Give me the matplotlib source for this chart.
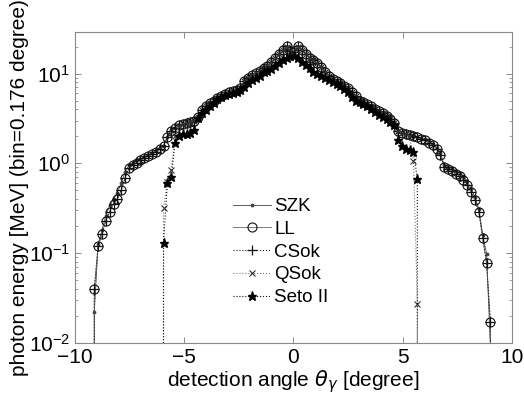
import numpy as np
import matplotlib.pyplot as plt

plt.rcParams['font.family'] = ['Liberation Sans', 'DejaVu Sans']
plt.rcParams['mathtext.fontset'] = 'dejavusans'

# bin centres, bin width 0.176 degree
BIN = 0.176
angle = np.arange(-53, 53) * BIN + 0.038

# photon energy per bin [MeV]
ll = [0, 0.040, 0.119, 0.163, 0.23, 0.29, 0.355, 0.40, 0.50, 0.68,
      0.88, 0.95, 1.02, 1.09, 1.15, 1.21, 1.27, 1.34, 1.45, 1.55,
      1.95, 2.3, 2.5, 2.65, 2.75, 2.8, 2.9, 3.0, 3.3, 3.9,
      4.4, 4.7, 5.0, 5.3, 5.6, 5.9, 6.2, 6.4, 6.6, 6.9,
      8.2, 9.0, 9.6, 10.2, 10.8, 11.5, 12.3, 13.5, 15.0, 16.5,
      18.5, 20.5, 18.0, 17.5, 20.5, 18.5, 16.5, 15.0, 14.0, 13.0,
      11.8, 10.5, 9.5, 8.8, 8.3, 7.8, 7.3, 6.9, 6.3, 5.6,
      5.0, 4.8, 4.6, 4.3, 4.0, 3.8, 3.6, 3.4, 3.1, 2.8,
      2.3, 2.2, 2.1, 2.05, 2.0, 1.95, 1.85, 1.8, 1.7, 1.6,
      1.45, 1.25, 0.90, 0.86, 0.82, 0.77, 0.72, 0.66, 0.58, 0.48,
      0.39, 0.29, 0.146, 0.078, 0.017, 0]

szk = [0, 0.022, 0.125, 0.18, 0.26, 0.34, 0.40, 0.47, 0.60, 0.80,
       0.95, 1.02, 1.08, 1.13, 1.19, 1.25, 1.31, 1.38, 1.48, 1.58,
       1.98, 2.35, 2.5, 2.65, 2.75, 2.8, 2.9, 3.0, 3.3, 3.9,
       4.4, 4.7, 5.0, 5.3, 5.6, 5.9, 6.2, 6.4, 6.6, 6.9,
       8.2, 9.0, 9.6, 10.2, 10.8, 11.5, 12.3, 13.5, 15.0, 16.5,
       18.5, 20.0, 18.0, 17.5, 20.0, 18.5, 16.5, 15.0, 14.0, 13.0,
       11.8, 10.5, 9.5, 8.8, 8.3, 7.8, 7.3, 6.9, 6.3, 5.6,
       5.0, 4.8, 4.6, 4.3, 4.0, 3.8, 3.6, 3.4, 3.1, 2.8,
       2.3, 2.2, 2.1, 2.05, 2.0, 1.95, 1.9, 1.85, 1.75, 1.65,
       1.5, 1.3, 0.95, 0.92, 0.88, 0.83, 0.78, 0.72, 0.63, 0.52,
       0.42, 0.31, 0.16, 0.098, 0.009, 0]

csok = ll

qsok = [0] * 19 + [
    0.32, 0.62, 0.84, 2.0, 2.6, 2.75, 2.8, 2.9, 3.0, 3.3,
    3.9, 4.4, 4.7, 5.0, 5.3, 5.6, 5.9, 6.2, 6.4, 6.6,
    6.9, 8.2, 9.0, 9.6, 10.2, 10.8, 11.5, 12.3, 13.5, 15.0,
    16.5, 18.5, 20.0, 18.0, 17.5, 20.0, 18.5, 16.5, 15.0, 14.0,
    13.0, 11.8, 10.5, 9.5, 8.8, 8.3, 7.8, 7.3, 6.9, 6.3,
    5.6, 5.0, 4.8, 4.6, 4.3, 4.0, 3.8, 3.6, 3.4, 3.1,
    2.8, 2.3, 2.2, 2.1, 2.0, 1.06, 0.027] + [0] * 20

seto = [0] * 19 + [
    0.13, 0.60, 0.70, 1.7, 2.0, 2.1, 2.15, 2.2, 2.35, 3.2,
    3.6, 3.9, 4.3, 4.7, 5.2, 5.5, 5.7, 5.9, 6.1, 6.3,
    6.5, 7.0, 7.8, 8.4, 8.9, 9.5, 10.3, 10.8, 11.3, 12.0,
    13.0, 14.0, 15.0, 15.5, 15.5, 15.0, 13.5, 12.5, 11.5, 10.5,
    9.8, 9.3, 9.0, 8.4, 8.0, 7.6, 7.2, 6.8, 6.3, 5.5,
    5.0, 4.8, 4.6, 4.4, 4.0, 3.7, 3.5, 3.3, 3.1, 2.9,
    2.7, 1.8, 1.55, 1.45, 1.4, 1.35, 0.67] + [0] * 20

fig = plt.figure(figsize=(5.24, 4.01), dpi=100)
ax = fig.add_axes([0.143, 0.145, 0.834, 0.775])

ax.plot(angle, szk, '-', color='#444444', lw=0.6, marker='.', ms=3.5,
        label='SZK')
ax.plot(angle, ll, '-', color='#666666', lw=0.6, marker='o', ms=6.5,
        mfc='none', mec='#111111', mew=0.8, label='LL')
ax.plot(angle, csok, ':', color='#222222', lw=0.8, marker='+', ms=6.5,
        mec='#111111', mew=0.9, label='CSok')
ax.plot(angle, qsok, ':', color='#777777', lw=0.8, marker='x', ms=4,
        mec='#333333', mew=0.8, label='QSok')
ax.plot(angle, seto, ':', color='#111111', lw=0.8, marker='*', ms=6.5,
        mfc='black', mec='black', label='Seto II')

ax.set_yscale('log', nonpositive='clip')
ax.set_xlim(-10, 10)
ax.set_ylim(0.01, 29)
ax.set_xticks([-10, -5, 0, 5, 10])

ax.tick_params(which='both', direction='in', top=True, right=True,
               color='#777777', labelsize=15)
ax.tick_params(which='major', length=4, width=0.6)
ax.tick_params(which='minor', length=2, width=0.5)
for sp in ax.spines.values():
    sp.set_color('#888888')
    sp.set_linewidth(0.8)

ax.set_xlabel(r'detection angle $\theta_\gamma$ [degree]', fontsize=15,
              labelpad=1)
ax.set_ylabel('photon energy [MeV] (bin=0.176 degree)', fontsize=15,
              labelpad=0)

ax.legend(loc='upper left', bbox_to_anchor=(0.345, 0.49), frameon=False,
          fontsize=13.5, handlelength=2.0, handletextpad=0.2,
          labelspacing=0.3, borderaxespad=0)

fig.savefig('out.png', dpi=100)
